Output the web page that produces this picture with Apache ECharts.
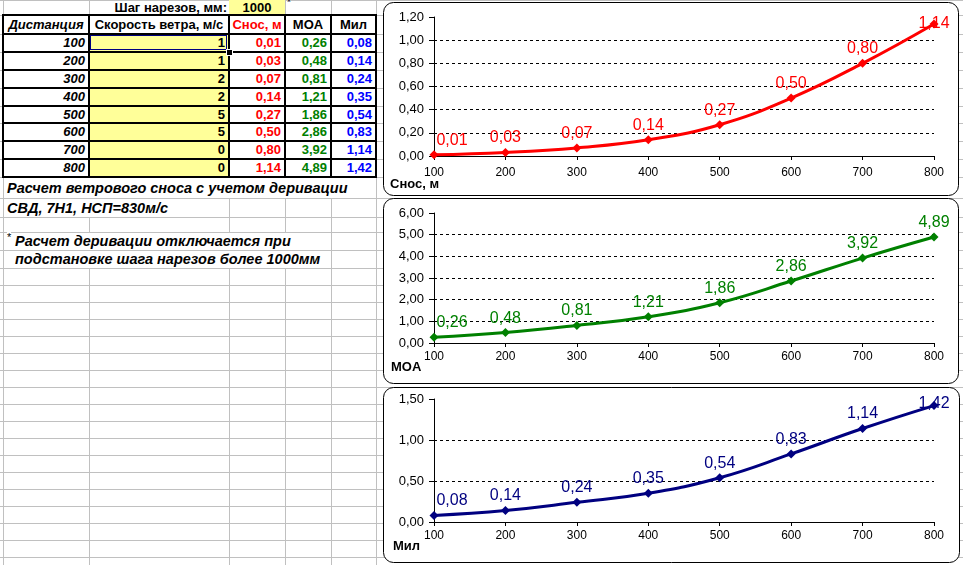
<!DOCTYPE html>
<html><head><meta charset="utf-8">
<script src="https://cdn.jsdelivr.net/npm/echarts@6/dist/echarts.min.js"></script>
<style>
html,body{margin:0;padding:0;background:#fff;width:963px;height:565px;overflow:hidden;font-family:'Liberation Sans',Arial,sans-serif;}
#sheet{position:absolute;left:0;top:0;width:963px;height:565px;}
#chart{position:absolute;left:0;top:0;width:963px;height:565px;}
.d{position:absolute;}
.t{position:absolute;white-space:nowrap;font-weight:bold;font-size:13px;box-sizing:border-box;}
</style></head>
<body><div id="sheet"></div><div id="chart"></div>
<script>
// ---- data ----
const distances = [100, 200, 300, 400, 500, 600, 700, 800];
const windSpeed = [1, 1, 2, 2, 5, 5, 0, 0];
const drift = [0.01, 0.03, 0.07, 0.14, 0.27, 0.50, 0.80, 1.14];
const moa = [0.26, 0.48, 0.81, 1.21, 1.86, 2.86, 3.92, 4.89];
const mil = [0.08, 0.14, 0.24, 0.35, 0.54, 0.83, 1.14, 1.42];
const twistRate = 1000;
const twistLabel = 'Шаг нарезов, мм:';
const headers = ['Дистанция', 'Скорость ветра, м/с', 'Снос, м', 'MOA', 'Мил'];
const notes = ['Расчет ветрового сноса с учетом деривации', 'СВД, 7Н1, НСП=830м/с', '', 'Расчет деривации отключается при', 'подстановке шага нарезов более 1000мм'];
const chartTitles = ['Снос, м', 'MOA', 'Мил'];

const fmt = v => Number(v).toFixed(2).replace('.', ',');

// ---- spreadsheet ----
const sheet = document.getElementById('sheet');
function box(x, y, w, h, css) {
  const e = document.createElement('div'); e.className = 'd';
  e.style.left = x + 'px'; e.style.top = y + 'px'; e.style.width = w + 'px'; e.style.height = h + 'px';
  Object.assign(e.style, css || {}); sheet.appendChild(e); return e;
}
function text(x, y, w, h, s, align, css) {
  const e = document.createElement('div'); e.className = 't';
  e.style.left = x + 'px'; e.style.top = y + 'px';
  if (w != null) e.style.width = w + 'px';
  e.style.height = h + 'px'; e.style.lineHeight = h + 'px';
  e.style.textAlign = align || 'left';
  e.textContent = s; Object.assign(e.style, css || {}); sheet.appendChild(e); return e;
}
const colX = [3, 89, 229, 285, 331, 376];
const tableTop = 15, headBottom = 34, tableBottom = 177;
const rowH = (tableBottom - headBottom) / distances.length;
const rowEdges = [0, tableTop, headBottom];
distances.forEach((d, i) => rowEdges.push(headBottom + (i + 1) * rowH));
const lowEdges = [198, 216.5, 232, 250, 267.5];
let y = 267.5; while (y < 565) { y += 17.05; lowEdges.push(y); }
const allEdges = rowEdges.concat(lowEdges);
// gray gridlines
allEdges.forEach(e => box(0, Math.round(e), 963, 1, {background: '#c0c0c0'}));
colX.forEach(x => box(x, 0, 1, 565, {background: '#c0c0c0'}));
// yellow fills
box(colX[2], 0, colX[3] - colX[2], tableTop, {background: '#ffff99'});
box(colX[1], headBottom, colX[2] - colX[1], tableBottom - headBottom, {background: '#ffff99'});
// white under table cells
[0, 2, 3, 4].forEach(c => box(colX[c], headBottom, colX[c + 1] - colX[c], tableBottom - headBottom, {background: '#fff'}));
box(colX[0], tableTop, colX[5] - colX[0], headBottom - tableTop, {background: '#fff'});
// thick borders
rowEdges.slice(1).forEach(e => box(colX[0] - 1, Math.round(e) - 1, colX[5] - colX[0] + 2, 2, {background: '#000'}));
colX.forEach(x => box(x - 1, tableTop - 1, 2, tableBottom - tableTop + 2, {background: '#000'}));
// row 1
text(colX[1], 0, colX[2] - colX[1] - 2, tableTop, twistLabel, 'right');
text(colX[2], 0, colX[3] - colX[2], tableTop, String(twistRate), 'center');
text(colX[3] + 2, -3, null, 12, '*', 'left', {fontWeight: 'normal', fontSize: '10px'});
// header
const hColors = ['#000', '#000', '#ff0000', '#000', '#000'];
headers.forEach((h, c) => text(colX[c], tableTop, colX[c + 1] - colX[c], headBottom - tableTop, h, 'center',
  {color: hColors[c], fontStyle: c === 0 ? 'italic' : 'normal'}));
// data rows
const valColors = ['#000', '#000', '#ff0000', '#008000', '#0000ff'];
distances.forEach((d, i) => {
  const top = headBottom + i * rowH;
  const vals = [String(d), String(windSpeed[i]), fmt(drift[i]), fmt(moa[i]), fmt(mil[i])];
  vals.forEach((v, c) => text(colX[c], top, colX[c + 1] - colX[c] - 4, rowH, v, 'right',
    {color: valColors[c], fontStyle: c === 0 ? 'italic' : 'normal'}));
});
// active cell selection
box(colX[1] + 1, headBottom + 1, colX[2] - colX[1] - 3, rowH - 3, {border: '1px solid #000080', boxSizing: 'border-box'});
box(colX[2] - 3, headBottom + rowH - 3, 5, 5, {background: '#000', border: '1px solid #fff', boxSizing: 'content-box'});
// notes
const noteTops = [177, 198, 216.5, 232, 250];
notes.forEach((n, i) => {
  if (!n) return;
  const top = Math.round(noteTops[i]) + 1;
  const h = Math.round(lowEdges[i] - noteTops[i]) - 1;
  const x = i >= 3 ? 15 : 7;
  text(x, top, null, h, n, 'left', {fontStyle: 'italic', fontSize: '14.5px', background: '#fff', paddingRight: '2px'});
});
text(7, 232, null, 10, '*', 'left', {fontWeight: 'normal', fontSize: '11px', background: '#fff'});

// ---- charts ----
const chart = echarts.init(document.getElementById('chart'), null, {renderer: 'canvas'});
const FF = 'Liberation Sans';
const grids = [
  {left: 434, right: 29, top: 17, height: 139},
  {left: 434, right: 29, top: 213, height: 130},
  {left: 434, right: 29, top: 399, height: 123}
];
const yCfg = [{max: 1.2, interval: 0.2}, {max: 6, interval: 1}, {max: 1.5, interval: 0.5}];
const xMargins = [11, 8, 8];
const colors = ['#ff0000', '#008000', '#000080'];
const seriesData = [drift, moa, mil];
const labelShift = [{0: [18, 0], 7: [0, 14]}, {0: [18, 0]}, {0: [18, 0], 7: [0, 13]}];

const xAxes = grids.map((g, i) => ({
  type: 'value', gridIndex: i, min: 100, max: 800, interval: 100,
  axisLine: {lineStyle: {color: '#000', width: 1}},
  axisTick: {show: true, length: 4, lineStyle: {color: '#000'}},
  axisLabel: {color: '#000', fontSize: 12, fontFamily: FF, margin: xMargins[i]},
  splitLine: {show: false}
}));
const yAxes = grids.map((g, i) => ({
  type: 'value', gridIndex: i, min: 0, max: yCfg[i].max, interval: yCfg[i].interval,
  axisLine: {show: true, lineStyle: {color: '#000', width: 1}},
  axisTick: {show: true, length: 5, lineStyle: {color: '#000'}},
  axisLabel: {color: '#000', fontSize: 13, fontFamily: FF, margin: 10, formatter: v => fmt(v)},
  splitLine: {show: true, showMinLine: false, showMaxLine: false, lineStyle: {color: '#000', width: 1, type: [3, 3]}}
}));
const series = seriesData.map((arr, i) => ({
  type: 'line', xAxisIndex: i, yAxisIndex: i, smooth: 0.45,
  symbol: 'diamond', symbolSize: 9, z: 5,
  lineStyle: {color: colors[i], width: 3}, itemStyle: {color: colors[i]},
  label: {show: true, position: 'top', distance: 2, color: colors[i], fontSize: 16, fontFamily: FF,
    formatter: p => fmt(p.value[1])},
  data: distances.map((d, j) => {
    const item = {value: [d, arr[j]]};
    if (labelShift[i][j]) item.label = {offset: labelShift[i][j]};
    return item;
  })
}));
const boxes = [[383, 2, 575, 193], [383, 198, 575, 185], [383, 387, 576, 175]];
const titlePos = [[390, 184], [391, 367], [393, 546]];
const graphic = boxes.map(b => ({
  type: 'rect', z: -10, silent: true,
  shape: {x: b[0] + 0.5, y: b[1] + 0.5, width: b[2], height: b[3], r: 10},
  style: {fill: '#fff', stroke: '#000', lineWidth: 1}
})).concat(chartTitles.map((t, i) => ({
  type: 'text', z: 10, silent: true, x: titlePos[i][0], y: titlePos[i][1],
  style: {text: t, fill: '#000', font: 'bold 13px "Liberation Sans"', textVerticalAlign: 'middle'}
})));
chart.setOption({
  animation: false,
  backgroundColor: 'transparent',
  grid: grids,
  xAxis: xAxes,
  yAxis: yAxes,
  series: series,
  graphic: {elements: graphic}
});
</script>
</body></html>
